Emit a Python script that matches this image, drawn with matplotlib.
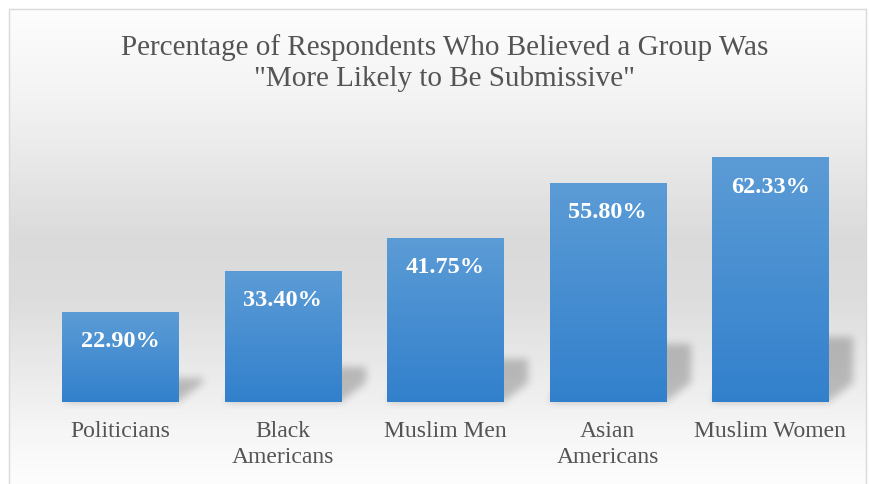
import numpy as np
import matplotlib
matplotlib.use("Agg")
import matplotlib.pyplot as plt
from matplotlib.path import Path

# ---- data -------------------------------------------------------------
categories = ["Politicians", "Black\nAmericans", "Muslim Men",
              "Asian\nAmericans", "Muslim Women"]
values = [22.90, 33.40, 41.75, 55.80, 62.33]
value_labels = ["22.90%", "33.40%", "41.75%", "55.80%", "62.33%"]
title_lines = ["Percentage of Respondents Who Believed a Group Was",
               "\"More Likely to Be Submissive\""]

# ---- figure ------------------------------------------------------------
W, H = 870, 484
SERIF = "Liberation Serif"
TEXT_GREY = "#545454"

fig = plt.figure(figsize=(W / 100, H / 100), dpi=100)
fig.patch.set_facecolor("white")

# background layer in pixel coordinates (y grows downward)
bg = fig.add_axes([0, 0, 1, 1], zorder=0)
bg.set_xlim(0, W)
bg.set_ylim(H, 0)
bg.axis("off")

# chart area: vertical grey gradient inside a thin border
fx0, fx1, fy0, fy1 = 9, 867, 8, H
ys = np.arange(fy0, fy1) + 0.5
stop_y = [8, 40, 100, 170, 240, 300, 380, 430, 484]
stop_v = [253, 250, 243, 231, 218, 221, 236, 246, 253]
shade = np.interp(ys, stop_y, stop_v) / 255.0
grad = np.repeat(shade[:, None], fx1 - fx0, axis=1)
grad_rgb = np.dstack([grad, grad, grad])
bg.imshow(grad_rgb, extent=[fx0, fx1, fy1, fy0], origin="upper",
          aspect="auto", interpolation="bilinear", zorder=0)
bg.add_patch(plt.Rectangle((fx0 + 0.5, fy0 + 0.5), fx1 - fx0 - 1, fy1 - fy0 + 5,
                           fill=False, edgecolor="#D9D9D9", lw=1.0, zorder=3))

# ---- plot axes ---------------------------------------------------------
ax = fig.add_axes([39 / W, 82 / H, 812.5 / W, 275 / H], zorder=2)
ax.set_xlim(-0.5, len(values) - 0.5)
ax.set_ylim(0, 70)
ax.patch.set_alpha(0)
for s in ax.spines.values():
    s.set_visible(False)
ax.set_yticks([])

x = np.arange(len(values))
bar_w = 0.714
bars = ax.bar(x, values, width=bar_w, color="none", edgecolor="none")

# per-bar vertical blue gradient
top_c = np.array([92, 156, 214]) / 255.0
bot_c = np.array([50, 128, 204]) / 255.0
t = np.linspace(0, 1, 256)[:, None]
bar_grad = (top_c[None, :] * (1 - t) + bot_c[None, :] * t)[:, None, :]
for b, v, xi in zip(bars, values, x):
    im = ax.imshow(bar_grad, extent=[xi - bar_w / 2, xi + bar_w / 2, 0, v],
                   origin="upper", aspect="auto", interpolation="bilinear",
                   zorder=2)
    im.set_clip_path(b)
ax.set_xlim(-0.5, len(values) - 0.5)
ax.set_ylim(0, 70)

# ---- perspective shadows behind the bars -------------------------------
fig.canvas.draw()
shadow_shift = 0.155     # horizontal reach of the shadow, in category units
shadow_ratio = 0.265     # shadow height relative to bar height
shadow_taper = 5.0       # height of the slanted foot, in data units
cols, rows = np.meshgrid(np.arange(W) + 0.5, np.arange(H) + 0.5)
pts = np.column_stack([cols.ravel(), (H - rows).ravel()])
mask = np.zeros(H * W)
for xi, v in zip(x, values):
    hs = v * shadow_ratio
    x0, x1 = xi - bar_w / 2, xi + bar_w / 2
    poly = np.array([
        [x0, 0],
        [x1, 0],
        [x1 + shadow_shift, min(shadow_taper, hs)],
        [x1 + shadow_shift, hs],
        [x0 + shadow_shift, hs],
    ])
    disp = ax.transData.transform(poly)
    mask = np.maximum(mask, Path(disp).contains_points(pts).astype(float))
mask = mask.reshape(H, W)


def blur(a, sigma):
    r = int(3 * sigma)
    k = np.exp(-0.5 * (np.arange(-r, r + 1) / sigma) ** 2)
    k /= k.sum()
    a = np.apply_along_axis(lambda m: np.convolve(m, k, mode="same"), 0, a)
    a = np.apply_along_axis(lambda m: np.convolve(m, k, mode="same"), 1, a)
    return a


soft = blur(mask, 4.0)
shadow = np.zeros((H, W, 4))
shadow[..., 3] = soft * 0.22
bg.imshow(shadow, extent=[0, W, H, 0], origin="upper", aspect="auto",
          interpolation="nearest", zorder=1)

# ---- labels ------------------------------------------------------------
for xi, v, lab in zip(x, values, value_labels):
    ax.annotate(lab, (xi, v), xytext=(0, -25.5), textcoords="offset points",
                ha="center", va="baseline", color="white", fontsize=17.5,
                fontweight="bold", family=SERIF, zorder=5)

ax.set_xticks(x)
ax.set_xticklabels(categories, fontsize=17, color=TEXT_GREY, family=SERIF,
                   linespacing=1.35)
ax.tick_params(axis="x", length=0, pad=13.5)

fig.text(445 / W, 1 - 55 / H, title_lines[0], ha="center", va="baseline",
         fontsize=21, color=TEXT_GREY, family=SERIF)
fig.text(445 / W, 1 - 86 / H, title_lines[1], ha="center", va="baseline",
         fontsize=21, color=TEXT_GREY, family=SERIF)

fig.savefig("out.png", dpi=100)
